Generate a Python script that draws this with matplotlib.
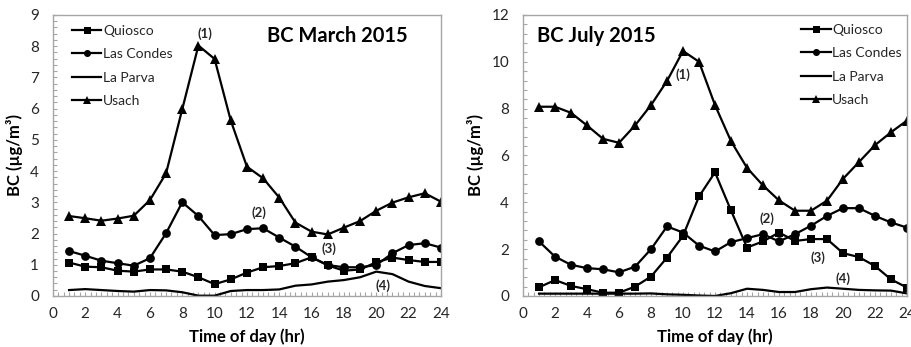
import matplotlib
matplotlib.use("Agg")
import matplotlib.pyplot as plt
from matplotlib.ticker import MultipleLocator

plt.rcParams["font.family"] = ["Lato", "DejaVu Sans"]

hours = list(range(1, 25))

# March 2015 hourly means
quiosco_mar = [1.07, 0.94, 0.92, 0.81, 0.78, 0.85, 0.85, 0.78, 0.60, 0.38, 0.53, 0.75,
               0.92, 0.96, 1.05, 1.24, 0.98, 0.81, 0.85, 1.08, 1.23, 1.15, 1.09, 1.09]
lascondes_mar = [1.44, 1.29, 1.13, 1.05, 0.97, 1.21, 2.01, 3.00, 2.56, 1.95, 1.98, 2.14,
                 2.17, 1.87, 1.58, 1.24, 0.99, 0.92, 0.92, 0.99, 1.37, 1.63, 1.69, 1.55]
laparva_mar = [0.19, 0.22, 0.19, 0.16, 0.14, 0.19, 0.18, 0.12, 0.01, 0.01, 0.16, 0.19,
               0.19, 0.21, 0.33, 0.37, 0.46, 0.51, 0.60, 0.78, 0.70, 0.46, 0.32, 0.25]
usach_mar = [2.56, 2.49, 2.41, 2.48, 2.57, 3.07, 3.93, 5.98, 8.02, 7.59, 5.62, 4.14,
             3.77, 3.15, 2.35, 2.06, 1.97, 2.19, 2.40, 2.73, 2.99, 3.16, 3.29, 3.02]

# July 2015 hourly means
quiosco_jul = [0.37, 0.68, 0.43, 0.29, 0.14, 0.14, 0.40, 0.83, 1.64, 2.57, 4.25, 5.28,
               3.65, 2.07, 2.33, 2.71, 2.35, 2.43, 2.43, 1.83, 1.66, 1.28, 0.71, 0.36]
lascondes_jul = [2.33, 1.68, 1.33, 1.19, 1.14, 1.01, 1.25, 2.00, 2.97, 2.71, 2.15, 1.90,
                 2.30, 2.47, 2.64, 2.33, 2.64, 3.00, 3.42, 3.75, 3.75, 3.42, 3.14, 2.92]
laparva_jul = [0.10, 0.10, 0.10, 0.10, 0.10, 0.10, 0.10, 0.11, 0.07, 0.05, 0.02, 0.00,
               0.12, 0.31, 0.26, 0.17, 0.17, 0.29, 0.36, 0.31, 0.26, 0.24, 0.23, 0.11]
usach_jul = [8.08, 8.08, 7.82, 7.28, 6.71, 6.54, 7.28, 8.15, 9.18, 10.46, 10.00, 8.15,
             6.61, 5.47, 4.72, 4.08, 3.64, 3.64, 4.07, 5.00, 5.72, 6.44, 6.99, 7.49]

site_names = ["Quiosco", "Las Condes", "La Parva", "Usach"]
site_markers = ["s", "o", None, "^"]
marker_sizes = [6.3, 6.3, 0, 6.8]

# numbered event labels: (text, x, y)
notes_mar = [("(1)", 9.4, 8.4), ("(2)", 12.75, 2.68), ("(3)", 17.1, 1.53), ("(4)", 20.4, 0.32)]
notes_jul = [("(1)", 10.0, 9.45), ("(2)", 15.25, 3.3), ("(3)", 18.45, 1.64), ("(4)", 20.0, 0.72)]

GRID = "#a6a6a6"


def draw_panel(ax, series, ymax, yminor, title, title_xy, notes, legend_xy):
    for vals, name, mk, ms in zip(series, site_names, site_markers, marker_sizes):
        ax.plot(hours, vals, color="black", lw=1.6, marker=mk, ms=ms,
                markeredgewidth=0, label=name)

    ax.set_xlim(0, 24)
    ax.set_ylim(0, ymax)
    ax.xaxis.set_major_locator(MultipleLocator(2))
    ax.xaxis.set_minor_locator(MultipleLocator(1 / 3))
    ax.yaxis.set_major_locator(MultipleLocator(1 if ymax < 10 else 2))
    ax.yaxis.set_minor_locator(MultipleLocator(yminor))
    ax.tick_params(which="both", direction="in", color=GRID, length=3, width=0.8,
                   labelsize=11, labelcolor="#262626")
    ax.tick_params(axis="x", which="both", pad=8)
    ax.tick_params(axis="y", which="both", pad=10)
    for sp in ax.spines.values():
        sp.set_color(GRID)
        sp.set_linewidth(1.0)

    ax.set_xlabel("Time of day (hr)", fontsize=12, fontweight="bold", labelpad=5)
    ax.set_ylabel("BC (µg/m³)", fontsize=12, fontweight="bold", labelpad=5)

    ax.text(title_xy[0], title_xy[1], title, fontsize=14.5, fontweight="bold",
            ha="center", va="center")
    for s, x, y in notes:
        ax.text(x, y, s, fontsize=9.5, fontweight="bold", ha="center", va="center",
                color="#262626")

    leg = ax.legend(loc="upper left", bbox_to_anchor=legend_xy, frameon=False,
                    fontsize=10, handlelength=2.1, handletextpad=0.12,
                    labelspacing=0.82, borderpad=0, borderaxespad=0, markerscale=0.8)
    for t in leg.get_texts():
        t.set_color("#262626")


fig = plt.figure(figsize=(9.12, 3.47), dpi=100)
ax1 = fig.add_axes([0.058, 0.147, 0.4255, 0.810])
ax2 = fig.add_axes([0.5735, 0.147, 0.4210, 0.810])

draw_panel(ax1, [quiosco_mar, lascondes_mar, laparva_mar, usach_mar], 9, 0.2,
           "BC March 2015", (17.6, 8.33), notes_mar, (0.05, 0.965))
draw_panel(ax2, [quiosco_jul, lascondes_jul, laparva_jul, usach_jul], 12, 0.4,
           "BC July 2015", (4.6, 11.1), notes_jul, (0.725, 0.968))

fig.savefig("out.png", dpi=100)
